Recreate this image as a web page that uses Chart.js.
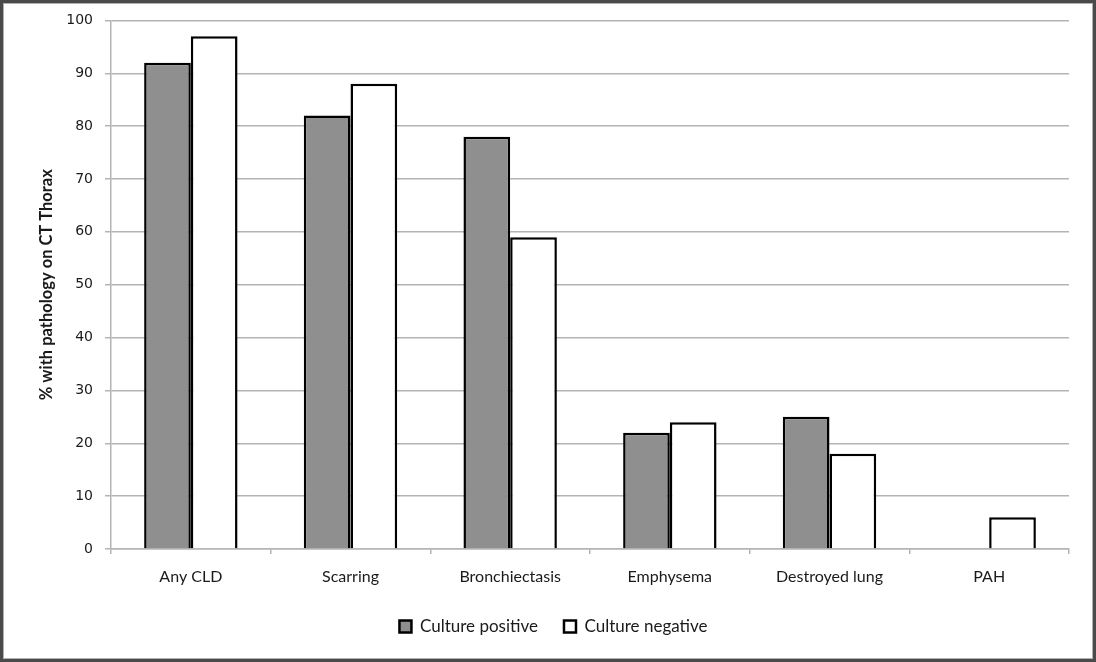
<!DOCTYPE html>
<html>
<head>
<meta charset="utf-8">
<script src="https://cdn.jsdelivr.net/npm/chart.js@4/dist/chart.umd.min.js"></script>
<style>
  html, body { margin: 0; padding: 0; background: #fff; }
  #wrap { position: relative; width: 1096px; height: 662px; }
  canvas { display: block; }
</style>
</head>
<body>
<div id="wrap"><canvas id="chart" width="1096" height="662"></canvas></div>
<script>
// CT thorax findings by culture status
const categories = ['Any CLD', 'Scarring', 'Bronchiectasis', 'Emphysema', 'Destroyed lung', 'PAH'];
const culturePositive = [92, 82, 78, 22, 25, 0];
const cultureNegative = [97, 88, 59, 24, 18, 6];
const yTicks = [0, 10, 20, 30, 40, 50, 60, 70, 80, 90, 100];

const GRID = '#b4b4b4';
const TEXT = '#1a1a1a';

// Outer frame around the whole figure
const framePlugin = {
  id: 'frame',
  afterDraw(chart) {
    const { ctx, width, height } = chart;
    ctx.save();
    ctx.strokeStyle = '#4a4a4a';
    ctx.lineWidth = 3;
    ctx.strokeRect(1.5, 1.5, width - 3, height - 3);
    ctx.strokeStyle = '#b0b0b0';
    ctx.lineWidth = 1;
    ctx.strokeRect(3.5, 3.5, width - 7, height - 7);
    ctx.restore();
  }
};

// Centre the legend under the whole figure rather than the padded area
const legendShift = {
  id: 'legendShift',
  afterLayout(chart) {
    const lg = chart.legend;
    if (lg) { lg.left += 19; lg.right += 19; }
  }
};

new Chart(document.getElementById('chart'), {
  type: 'bar',
  data: {
    labels: categories,
    datasets: [
      {
        label: 'Culture positive',
        data: culturePositive,
        backgroundColor: '#8f8f8f',
        borderColor: '#000',
        borderWidth: 2.5,
        borderSkipped: 'bottom'
      },
      {
        label: 'Culture negative',
        data: cultureNegative,
        backgroundColor: '#ffffff',
        borderColor: '#000',
        borderWidth: 2.5,
        borderSkipped: 'bottom'
      }
    ]
  },
  options: {
    responsive: false,
    animation: false,
    devicePixelRatio: 1,
    layout: { padding: { top: 20, right: 27, bottom: 17, left: 0 } },
    datasets: {
      bar: { categoryPercentage: 0.585, barPercentage: 1.0 }
    },
    plugins: {
      legend: {
        position: 'bottom',
        labels: {
          boxWidth: 12,
          boxHeight: 12,
          padding: 26,
          color: TEXT,
          font: { family: 'Lato', size: 17 }
        }
      },
      tooltip: { enabled: false }
    },
    scales: {
      x: {
        afterFit(scale) { scale.height = 43; },
        grid: {
          display: true,
          drawOnChartArea: false,
          drawTicks: true,
          tickLength: 5,
          offset: true,
          color: GRID,
          lineWidth: 1.5
        },
        border: { color: GRID, width: 1.5 },
        ticks: {
          color: TEXT,
          padding: 13,
          font: { family: 'Lato', size: 16 },
          maxRotation: 0
        }
      },
      y: {
        min: 0,
        max: 100,
        afterFit(scale) { scale.width = 111; },
        afterBuildTicks(scale) { scale.ticks = yTicks.map(v => ({ value: v })); },
        grid: {
          color: GRID,
          lineWidth: 1.5,
          tickLength: 6
        },
        border: { color: GRID, width: 1.5 },
        ticks: {
          color: TEXT,
          padding: 12,
          font: { family: 'DejaVu Sans', size: 14 }
        },
        title: {
          display: true,
          text: '% with pathology on CT Thorax',
          color: TEXT,
          font: { family: 'Lato', size: 16.5, weight: 'bold' },
          padding: { top: 37, bottom: 0 }
        }
      }
    }
  },
  plugins: [framePlugin, legendShift]
});
</script>
</body>
</html>
